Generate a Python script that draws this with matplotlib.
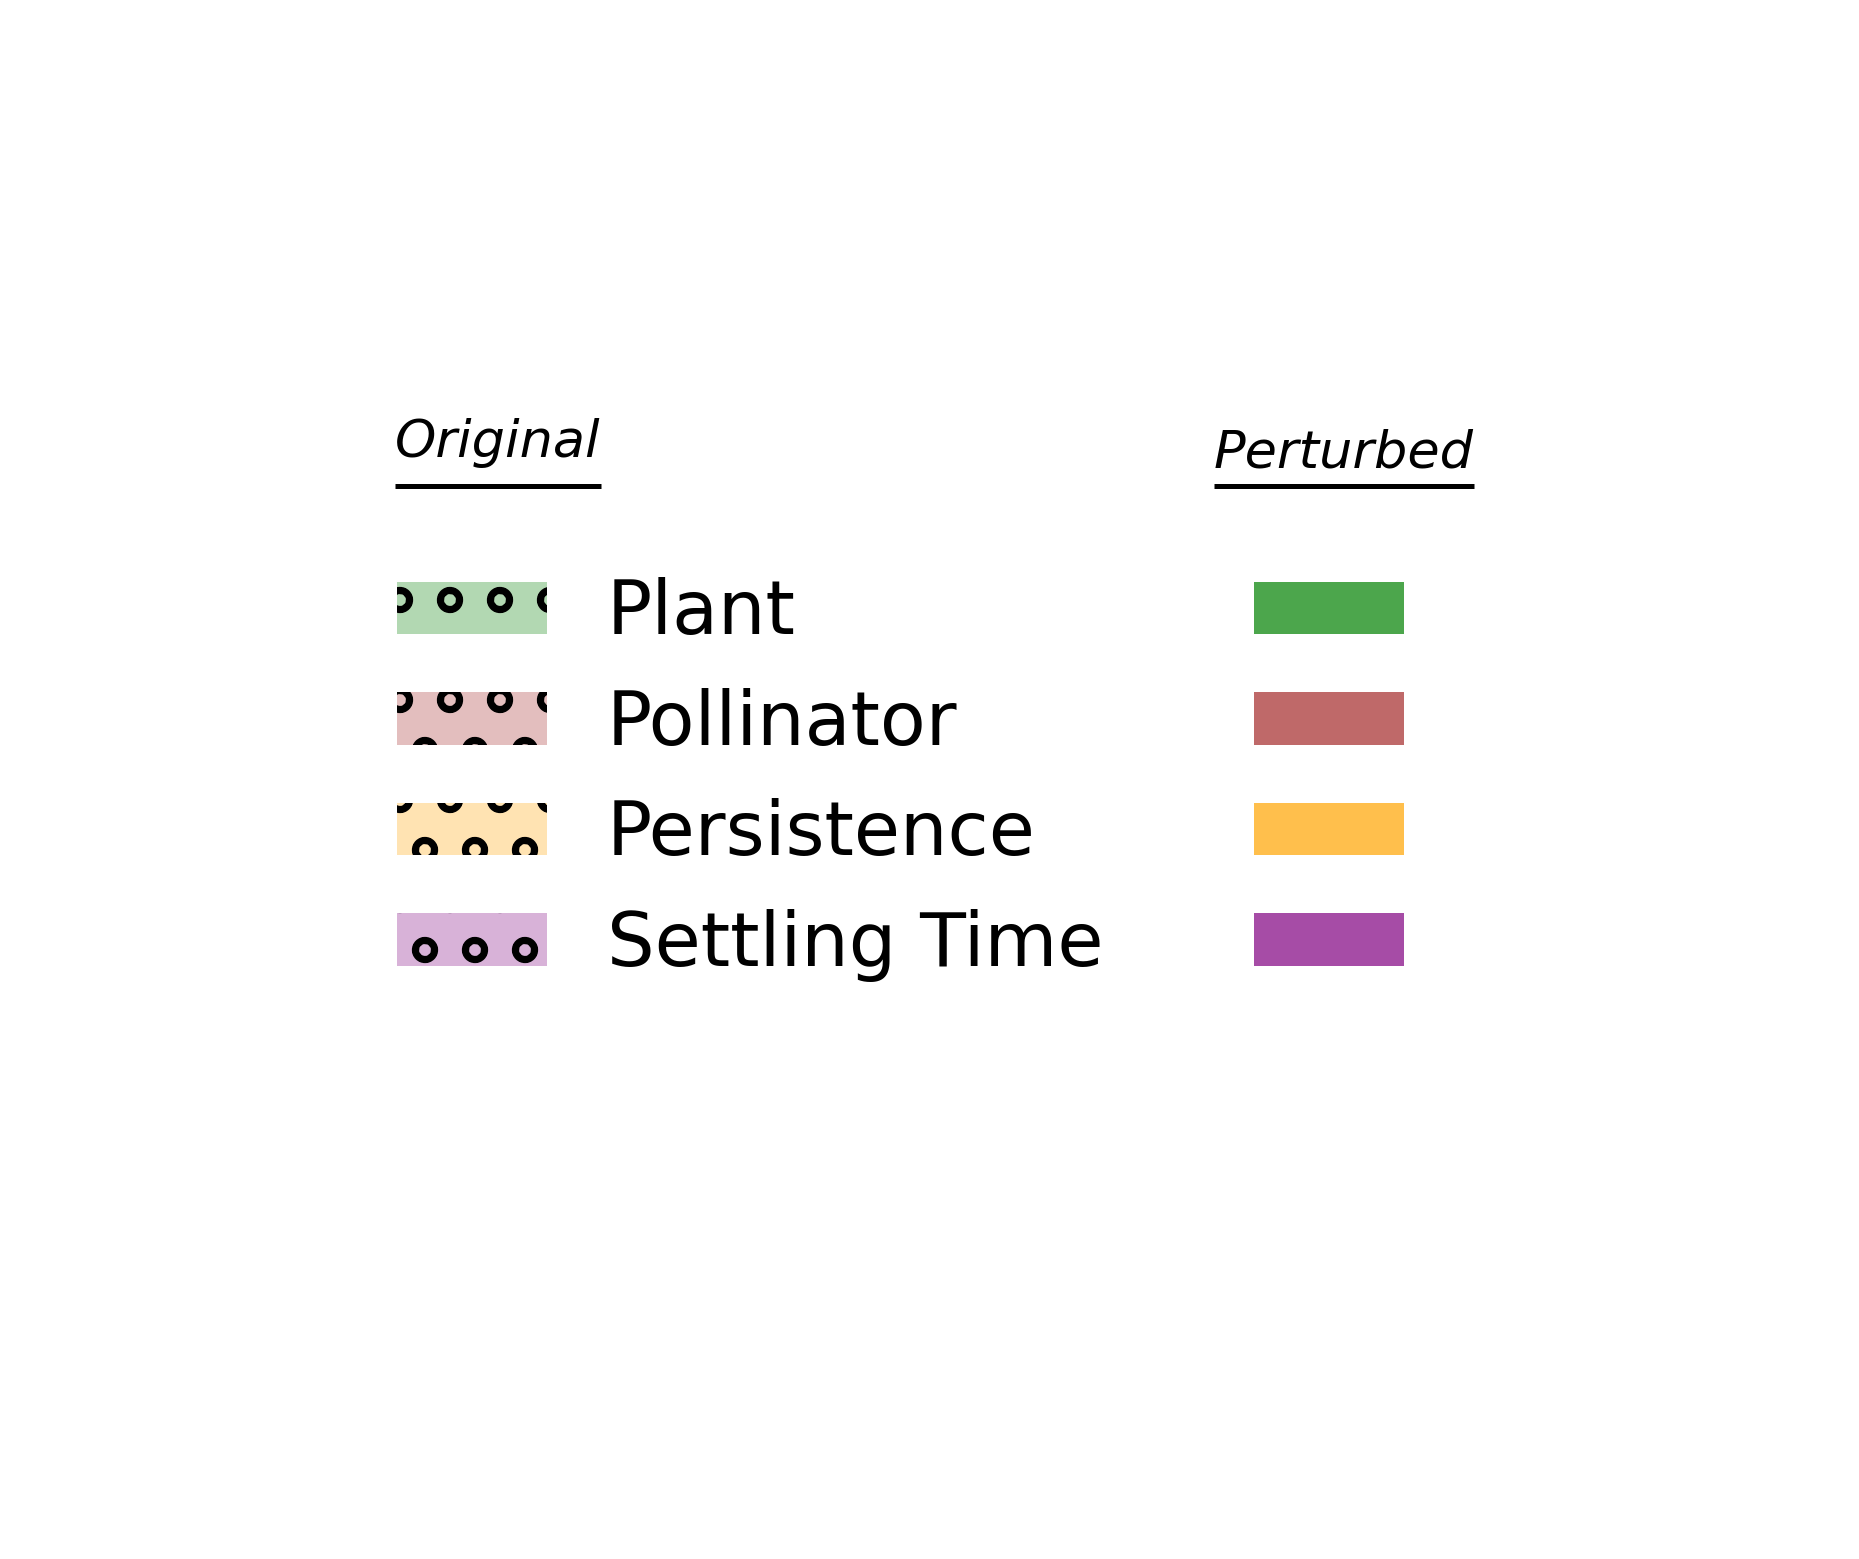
import matplotlib
matplotlib.use("Agg")
import matplotlib.pyplot as plt
import matplotlib.patches as mpatches
from matplotlib.lines import Line2D
from matplotlib.colors import to_rgba

# legend entries
categories = ["Plant", "Pollinator", "Persistence", "Settling Time"]
base_colors = ["green", "brown", "orange", "purple"]
group_titles = ["Original", "Perturbed"]

plt.rcParams['hatch.linewidth'] = 1.5

W, H = 1859, 1559
fig = plt.figure(figsize=(W / 300, H / 300), dpi=300)

# original: faded fill with circle hatch, perturbed: solid fill
orig_handles = [mpatches.Patch(facecolor=to_rgba(c, 0.3), edgecolor='black',
                               linewidth=0, hatch='o') for c in base_colors]
pert_handles = [mpatches.Patch(facecolor=to_rgba(c, 0.7), linewidth=0)
                for c in base_colors]

handles = orig_handles + pert_handles
labels = categories + [''] * len(categories)

fig.legend(handles, labels, ncol=2, fontsize=18, frameon=False,
           loc='upper left', bbox_to_anchor=(397 / W, 1 - 577 / H),
           borderpad=0, borderaxespad=0)

# column headers, underlined
title_x = [395 / W, 1214 / W]
title_base = [1 - 457 / H, 1 - 468 / H]
title_texts = []
for tx, ty, t in zip(title_x, title_base, group_titles):
    title_texts.append(fig.text(tx, ty, t, fontsize=12.6, style='italic',
                                ha='left', va='baseline'))

fig.canvas.draw()
renderer = fig.canvas.get_renderer()
for t in title_texts:
    bb = t.get_window_extent(renderer)
    y = 1 - 485.5 / H
    fig.add_artist(Line2D([bb.x0 / W, bb.x1 / W], [y, y], color='black',
                          linewidth=1.2, solid_capstyle='butt',
                          transform=fig.transFigure))

fig.savefig('out.png', dpi=300)
